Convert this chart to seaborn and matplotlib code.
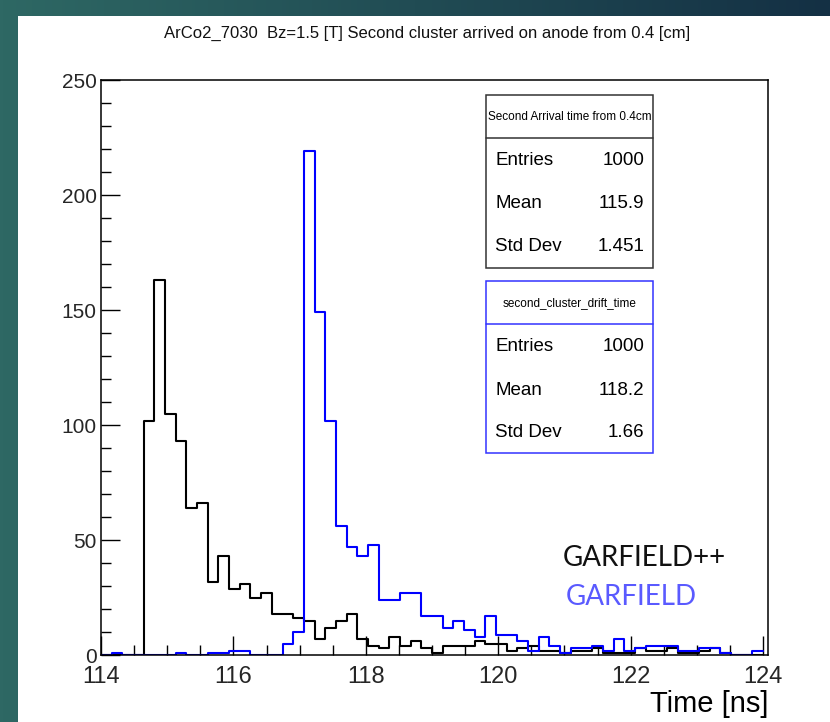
import numpy as np
import pandas as pd
import matplotlib
matplotlib.use("Agg")
import matplotlib.pyplot as plt
import seaborn as sns
from matplotlib.patches import Rectangle
from matplotlib.lines import Line2D
from matplotlib.ticker import MultipleLocator

# ---------------- data ----------------
bin_start = 114.0
bin_width = 0.16
n_bins = 63

garfieldpp_counts = [0, 0, 0, 0, 102, 163, 105, 93, 64, 66,
                     32, 43, 29, 31, 25, 27, 18, 18, 16, 15,
                     7, 12, 15, 18, 7, 4, 3, 8, 4, 6,
                     3, 1, 4, 4, 4, 6, 5, 5, 2, 3,
                     4, 2, 2, 1, 2, 2, 3, 1, 1, 1,
                     3, 2, 2, 3, 1, 1, 2, 3, 1, 0,
                     0, 0, 0]
garfield_counts = [0, 1, 0, 0, 0, 0, 0, 1, 0, 0,
                   1, 1, 2, 2, 0, 0, 0, 5, 10, 219,
                   149, 102, 56, 47, 43, 48, 24, 24, 27, 27,
                   17, 17, 12, 15, 11, 8, 17, 9, 9, 6,
                   2, 8, 4, 1, 3, 3, 4, 2, 7, 2,
                   3, 4, 4, 4, 2, 2, 3, 3, 1, 0,
                   0, 1, 1]

title = "ArCo2_7030  Bz=1.5 [T] Second cluster arrived on anode from 0.4 [cm]"
x_label = "Time [ns]"
box1_title = "Second Arrival time from 0.4cm"
box1_rows = [("Entries", "1000"), ("Mean", "115.9"), ("Std Dev", "1.451")]
box2_title = "second_cluster_drift_time"
box2_rows = [("Entries", "1000"), ("Mean", "118.2"), ("Std Dev", "1.66")]
legend_names = ["GARFIELD++", "GARFIELD"]

centers = bin_start + bin_width * (np.arange(n_bins) + 0.5)
df = pd.DataFrame({"t": np.concatenate([centers, centers]),
                   "n": garfieldpp_counts + garfield_counts,
                   "src": ["pp"] * n_bins + ["g"] * n_bins})

# ---------------- figure ----------------
sns.set_theme(style="white")
plt.rcParams['font.family'] = ['Liberation Sans', 'DejaVu Sans']

W, H = 830, 722
fig = plt.figure(figsize=(W / 100, H / 100), dpi=100)

def fx(x):
    return x / W

def fy(y):
    return 1 - y / H

# background gradient + white pad
bg = fig.add_axes([0, 0, 1, 1], zorder=-10)
grad = np.linspace(0, 1, 256)
c0 = np.array([46, 104, 100]) / 255
c1 = np.array([20, 48, 68]) / 255
img = (c0[None, :] * (1 - grad[:, None]) + c1[None, :] * grad[:, None])[None, :, :]
bg.imshow(img, aspect="auto", extent=[0, 1, 0, 1])
bg.add_patch(Rectangle((fx(18), 0), 1 - fx(18), fy(16), transform=bg.transAxes,
                       facecolor="white", edgecolor="none"))
bg.set_xlim(0, 1)
bg.set_ylim(0, 1)
bg.axis("off")

ax = fig.add_axes([fx(101), fy(655.3), fx(768.3) - fx(101), fy(80) - fy(655.3)])
ax.set_facecolor("white")

brange = (bin_start, bin_start + bin_width * (n_bins - 0.5))
sns.histplot(data=df[df.src == "pp"], x="t", weights="n", binwidth=bin_width,
             binrange=brange, element="step", fill=False, color="black",
             linewidth=1.5, ax=ax)
sns.histplot(data=df[df.src == "g"], x="t", weights="n", binwidth=bin_width,
             binrange=brange, element="step", fill=False, color="#0000ff",
             linewidth=1.5, ax=ax)

ax.set_xlim(114, 124.08)
ax.set_ylim(0, 250)
ax.set_xlabel("")
ax.set_ylabel("")
ax.xaxis.set_major_locator(MultipleLocator(2))
ax.xaxis.set_minor_locator(MultipleLocator(0.5))
ax.yaxis.set_major_locator(MultipleLocator(50))
ax.yaxis.set_minor_locator(MultipleLocator(10))
ax.tick_params(which="both", direction="in", left=True, bottom=True,
               top=False, right=False, color="black", width=1)
ax.tick_params(which="major", length=14)
ax.tick_params(which="minor", length=7)
ax.tick_params(axis="x", which="major", labelsize=17, pad=8)
ax.tick_params(axis="y", which="major", labelsize=15, pad=3)
for s in ax.spines.values():
    s.set_color("black")
    s.set_linewidth(1.1)

# title and x label
fig.text(fx(427), fy(33), title, ha="center", va="center", fontsize=12, color="#111111")
fig.text(fx(768), fy(704), x_label, ha="right", va="center", fontsize=21, color="black")

# stats boxes
def stat_box(x0, y0, x1, y1, ydiv, ytitle, rows_y, ttl, rows, ec):
    fig.add_artist(Rectangle((fx(x0), fy(y1)), fx(x1) - fx(x0), fy(y0) - fy(y1),
                             transform=fig.transFigure, facecolor="white",
                             edgecolor=ec, linewidth=1.1, zorder=5))
    fig.add_artist(Line2D([fx(x0), fx(x1)], [fy(ydiv), fy(ydiv)],
                          transform=fig.transFigure, color=ec, linewidth=1.1, zorder=6))
    fig.text(fx((x0 + x1) / 2), fy(ytitle), ttl, ha="center", va="center",
             fontsize=8.5, color="black", zorder=7)
    for (lab, val), yy in zip(rows, rows_y):
        fig.text(fx(495), fy(yy), lab, ha="left", va="center", fontsize=13.5,
                 color="black", zorder=7)
        fig.text(fx(644), fy(yy), val, ha="right", va="center", fontsize=13.5,
                 color="black", zorder=7)

stat_box(486.3, 95, 652.7, 268.3, 138.3, 117.3, [160.7, 203.3, 246.7],
         box1_title, box1_rows, "#333333")
stat_box(486.3, 281, 652.7, 452.7, 324.3, 302.7, [346.7, 390.7, 432.7],
         box2_title, box2_rows, "#3333ff")

# annotations
fig.text(fx(563), fy(558), legend_names[0], ha="left", va="center", fontsize=20,
         color="#111111", family=["Lato", "DejaVu Sans"], fontweight="normal")
fig.text(fx(566), fy(597), legend_names[1], ha="left", va="center", fontsize=20,
         color="#5a5aff", family=["Lato", "DejaVu Sans"], fontweight="normal")

fig.savefig("out.png", dpi=100)
